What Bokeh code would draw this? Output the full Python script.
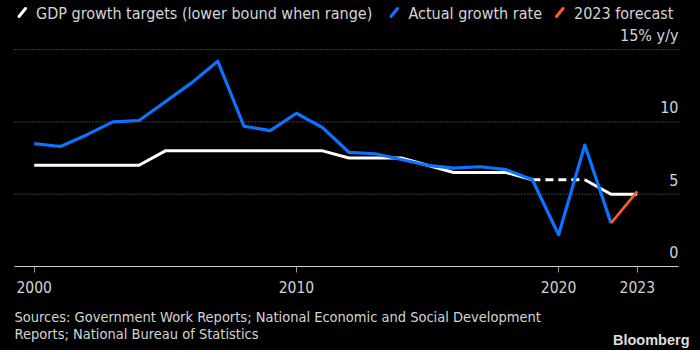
from bokeh.plotting import figure
from bokeh.layouts import column
from bokeh.models import Range1d, FixedTicker, ColumnDataSource
from bokeh.core.properties import value
from bokeh.embed import file_html
from bokeh.resources import INLINE

# ---- data ----
years = list(range(2000, 2024))
target = [7, 7, 7, 7, 7, 8, 8, 8, 8, 8, 8, 8, 7.5, 7.5, 7.5, 7, 6.5, 6.5, 6.5, 6, None, 6, 5, 5]
actual_years = list(range(2000, 2023))
actual = [8.5, 8.3, 9.1, 10.0, 10.1, 11.4, 12.7, 14.2, 9.7, 9.4, 10.6, 9.6, 7.9, 7.8, 7.4,
          7.0, 6.8, 6.9, 6.7, 6.0, 2.2, 8.4, 3.0]
forecast_years = [2022, 2023]
forecast = [3.0, 5.2]
x_ticks = [2000, 2010, 2020, 2023]
y_ticks = [0, 5, 10, 15]
y_tick_labels = ["0", "5", "10", "15% y/y"]
legend_labels = ["GDP growth targets (lower bound when range)", "Actual growth rate", "2023 forecast"]
source_lines = ["Sources: Government Work Reports; National Economic and Social Development",
                "Reports; National Bureau of Statistics"]
brand = "Bloomberg"

# ---- style ----
FONT = "DejaVu Sans Condensed, DejaVu Sans, sans-serif"
TXT = "#d4d4d4"
BLUE = "#0b73ff"
ORANGE = "#ff5a28"
WHITE = "#ffffff"
BG = {"background-color": "black"}
W = 700
TOP_H, MAIN_H, FOOT_H = 26, 274, 50
PX_PER_YEAR = 26.22
X0, X1 = 1999.249, 2024.573                      # extent of axis line / gridlines
XL = 2000 - 33.7 / PX_PER_YEAR                    # canvas left edge
XR = 2000 + (W - 33.7) / PX_PER_YEAR              # canvas right edge
Y0, Y1 = 0, 16.6


def blank(h):
    f = figure(width=W, height=h, output_backend="svg", toolbar_location=None,
               x_range=Range1d(0, W), y_range=Range1d(h, 0),
               x_axis_location=None, y_axis_location=None,
               background_fill_color="black", border_fill_color="black",
               outline_line_color=None, min_border=0)
    f.xgrid.visible = False
    f.ygrid.visible = False
    f.styles = BG
    return f


# ---- legend strip ----
top = blank(TOP_H)
leg_x = [35.5, 408, 573.5]
icon_x = [18, 390, 555.5]
colors = [WHITE, BLUE, ORANGE]
top.segment(x0=[x + 0.5 for x in icon_x], y0=[16] * 3, x1=[x + 7 for x in icon_x], y1=[8] * 3,
            line_color=colors, line_width=3, line_cap="round")
top.text(x=leg_x, y=[12.5] * 3, text=legend_labels, text_color=TXT, text_font=value(FONT),
         text_font_size="16px", text_baseline="middle", text_align="left")

# ---- main chart ----
p = figure(width=W, height=MAIN_H, output_backend="svg", toolbar_location=None,
           x_range=Range1d(XL, XR), y_range=Range1d(Y0, Y1), y_axis_location=None,
           background_fill_color="black", border_fill_color="black",
           outline_line_color=None, min_border_left=0, min_border_right=0,
           min_border_top=0, min_border_bottom=MAIN_H - 240)
p.styles = BG
p.xgrid.visible = False
p.ygrid.visible = False

xa = p.xaxis[0]
xa.ticker = FixedTicker(ticks=x_ticks)
xa.bounds = (X0, X1)
xa.axis_line_color = "#cfcfcf"
xa.major_tick_line_color = "#9a9a9a"
xa.major_tick_in = 0
xa.major_tick_out = 6
xa.minor_tick_line_color = None
xa.major_label_text_color = TXT
xa.major_label_text_font = FONT
xa.major_label_text_font_size = "15.5px"
xa.major_label_standoff = 8

# dotted horizontal gridlines
gy = [t for t in y_ticks if t > 0]
p.segment(x0=[X0] * len(gy), x1=[X1] * len(gy), y0=gy, y1=gy, line_color="#7a7a7a",
          line_width=1, line_dash="1 2")

# target line: solid pieces, dashed bridges over missing years
segs, cur = [], []
for yr, v in zip(years, target):
    if v is None:
        if cur:
            segs.append(cur)
            cur = []
    else:
        cur.append((yr, v))
if cur:
    segs.append(cur)
for s in segs:
    p.line([a for a, _ in s], [b for _, b in s], line_color=WHITE, line_width=3,
           line_join="round")
for a, b in zip(segs[:-1], segs[1:]):
    p.line([a[-1][0], b[0][0]], [a[-1][1], b[0][1]], line_color=WHITE, line_width=3,
           line_dash="8 5")

p.line(actual_years, actual, line_color=BLUE, line_width=3.2, line_join="round")
p.line(forecast_years, forecast, line_color=ORANGE, line_width=2.6, line_join="round")

ysrc = ColumnDataSource(dict(x=[X1] * len(y_ticks), y=y_ticks, t=y_tick_labels))
p.text(x="x", y="y", text="t", source=ysrc, text_align="right", text_baseline="middle",
       y_offset=-14.5, text_color=TXT, text_font=value(FONT), text_font_size="16px")

# ---- footer ----
foot = blank(FOOT_H)
foot.text(x=[14, 14], y=[16.7, 33.3], text=source_lines, text_color=TXT,
          text_font=value(FONT), text_font_size="14.5px", text_baseline="middle")
foot.text(x=[689], y=[39.5], text=[brand], text_color="#dddddd",
          text_font=value("Liberation Sans"), text_font_style="bold",
          text_font_size="14.5px", text_baseline="middle", text_align="right")

layout = column(top, p, foot, spacing=0, styles=BG)
open("out.html", "w").write(file_html(layout, INLINE))
